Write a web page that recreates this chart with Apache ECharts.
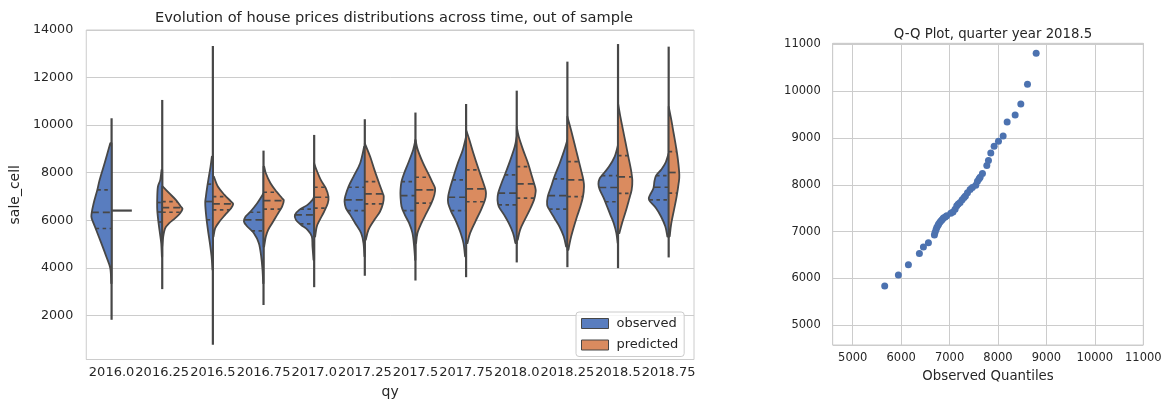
<!DOCTYPE html>
<html>
<head>
<meta charset="utf-8">
<script src="https://cdn.jsdelivr.net/npm/echarts@6/dist/echarts.min.js"></script>
<style>
html,body{margin:0;padding:0;background:#fff;}
#chart{width:1167px;height:405px;}
</style>
</head>
<body>
<div id="chart"></div>
<script>
// ---------- data ----------
const categories = ['2016.0','2016.25','2016.5','2016.75','2017.0','2017.25','2017.5','2017.75','2018.0','2018.25','2018.5','2018.75'];

// density profiles per violin half: [sale_cell value, half width as fraction of the category band]
const obsProfiles = [
  [[9240,0.026],[8400,0.138],[7700,0.236],[7280,0.282],[6720,0.354],[6300,0.393],[6090,0.393],[5656,0.315],[5040,0.203],[4480,0.105],[3990,0.026],[3360,0.007]],
  [[8120,0.013],[7700,0.039],[7420,0.085],[7000,0.098],[6440,0.098],[5880,0.072],[5460,0.046],[5040,0.020],[4480,0.007]],
  [[8680,0.020],[8260,0.046],[7840,0.079],[7420,0.111],[7000,0.138],[6720,0.151],[6160,0.131],[5600,0.098],[5040,0.059],[4480,0.026],[3920,0.007]],
  [[7140,0],[7000,0.039],[6720,0.125],[6370,0.256],[6160,0.354],[5950,0.387],[5740,0.321],[5460,0.190],[5040,0.092],[4480,0.046],[3920,0.020],[3360,0.007]],
  [[7000,0],[6860,0.033],[6650,0.131],[6440,0.295],[6230,0.380],[6020,0.360],[5810,0.262],[5600,0.131],[5320,0.046],[4900,0.033],[4340,0.013]],
  [[9100,0.013],[8400,0.092],[7840,0.223],[7420,0.321],[7000,0.387],[6790,0.400],[6510,0.374],[6230,0.288],[5880,0.190],[5460,0.072],[5040,0.026],[4480,0.007]],
  [[9380,0],[8960,0.046],[8400,0.144],[7980,0.223],[7630,0.275],[7280,0.295],[7000,0.295],[6580,0.275],[6230,0.210],[5880,0.125],[5460,0.059],[4900,0.026],[4340,0.007]],
  [[9520,0],[8960,0.066],[8400,0.164],[7840,0.249],[7420,0.308],[7000,0.354],[6720,0.354],[6370,0.295],[5950,0.197],[5530,0.118],[5040,0.052],[4480,0.020]],
  [[9520,0],[9100,0.039],[8540,0.125],[7980,0.223],[7560,0.301],[7140,0.367],[6860,0.380],[6580,0.354],[6230,0.249],[5880,0.157],[5460,0.072],[5040,0.026]],
  [[9380,0],[8960,0.059],[8400,0.151],[7840,0.256],[7420,0.321],[7000,0.387],[6650,0.400],[6440,0.354],[6090,0.256],[5740,0.157],[5320,0.072],[4900,0.026]],
  [[9170,0],[8680,0.066],[8260,0.177],[7980,0.282],[7770,0.360],[7530,0.387],[7280,0.360],[6930,0.282],[6580,0.216],[6230,0.151],[5880,0.085],[5460,0.033],[5040,0.007]],
  [[8820,0],[8400,0.066],[8120,0.151],[7880,0.249],[7630,0.282],[7350,0.301],[7070,0.367],[6930,0.393],[6790,0.367],[6510,0.249],[6160,0.151],[5740,0.066],[5320,0.026]]
];
const predProfiles = [
  [[6410,0.40]],
  [[7420,0.013],[7140,0.138],[6860,0.269],[6580,0.367],[6480,0.400],[6300,0.354],[6090,0.256],[5880,0.138],[5670,0.059],[5320,0.020],[4900,0]],
  [[7840,0.020],[7420,0.098],[7070,0.229],[6790,0.360],[6690,0.400],[6510,0.360],[6230,0.242],[5950,0.131],[5670,0.046],[5320,0.013]],
  [[8260,0.013],[7980,0.046],[7560,0.138],[7210,0.256],[6930,0.367],[6830,0.400],[6580,0.367],[6230,0.269],[5880,0.170],[5600,0.092],[5320,0.046],[4900,0.013]],
  [[8400,0],[8120,0.046],[7700,0.131],[7350,0.229],[7000,0.282],[6720,0.269],[6370,0.197],[6020,0.111],[5740,0.052],[5320,0.020]],
  [[9240,0],[8680,0.105],[8120,0.190],[7560,0.282],[7140,0.354],[7000,0.374],[6720,0.360],[6370,0.301],[6020,0.190],[5600,0.072],[5180,0.020]],
  [[9380,0],[8960,0.046],[8400,0.151],[7980,0.249],[7630,0.328],[7350,0.387],[7070,0.374],[6720,0.315],[6300,0.216],[5880,0.118],[5460,0.039],[5040,0.013]],
  [[9800,0],[9380,0.066],[8820,0.144],[8260,0.229],[7770,0.308],[7350,0.374],[7140,0.393],[6860,0.374],[6440,0.295],[5950,0.183],[5460,0.079],[5040,0.026]],
  [[9940,0],[9520,0.039],[8960,0.125],[8400,0.223],[7840,0.301],[7420,0.360],[7210,0.374],[6860,0.341],[6440,0.256],[6020,0.157],[5600,0.066],[5180,0.020]],
  [[10360,0],[9800,0.072],[9240,0.138],[8680,0.203],[8120,0.269],[7700,0.315],[7420,0.328],[7000,0.308],[6580,0.256],[6160,0.190],[5600,0.111],[5180,0.059],[4760,0.020]],
  [[10920,0],[10360,0.046],[9800,0.098],[9240,0.151],[8680,0.203],[8120,0.256],[7670,0.282],[7280,0.269],[6860,0.216],[6370,0.151],[5880,0.079],[5460,0.026]],
  [[10780,0],[10220,0.052],[9660,0.098],[9100,0.144],[8540,0.183],[7910,0.210],[7560,0.197],[7000,0.157],[6440,0.105],[5880,0.052],[5320,0.020]]
];
// quartiles [Q3, median, Q1]
const obsQuartiles = [[7280,6330,5656],[6750,6350,5930],[7520,6790,6020],[6340,6020,5560],[6470,6230,5850],[7390,6860,6410],[7630,7040,6410],[7700,6970,6410],[7910,7140,6650],[7740,7040,6470],[7880,7380,6780],[7880,7390,6860]];
const predQuartiles = [null,[6790,6530,6340],[7000,6690,6440],[7180,6830,6470],[7390,6970,6510],[7630,7110,6690],[7810,7280,6720],[8120,7320,6780],[8260,7530,6930],[8470,7700,7000],[8720,7830,7130],[8890,8010,7140]];
// extent of the thin tails
const tipTop    = [10290,11060,13330,8930,9590,10250,10530,10890,11450,12670,13410,13300];
const tipBottom = [1820,3108,770,2440,3190,3670,3470,3610,4230,4030,3990,4440];

// Q-Q plot, quarter year 2018.5
const qqObserved  = [5661,5943,6150,6377,6460,6563,6687,6700,6720,6736,6760,6775,6800,6825,6850,6873,6910,6942,7025,7070,7114,7149,7180,7218,7260,7300,7328,7370,7424,7470,7541,7576,7610,7631,7679,7769,7803,7851,7920,8010,8106,8189,8354,8471,8609,8788];
const qqPredicted = [5838,6075,6290,6534,6670,6763,6930,6980,7040,7090,7130,7160,7200,7230,7260,7290,7310,7340,7390,7420,7480,7550,7590,7624,7680,7730,7760,7830,7900,7940,7990,8078,8130,8163,8241,8411,8518,8681,8823,8929,9043,9340,9489,9723,10149,10809];

const yTicksLeft = [2000,4000,6000,8000,10000,12000,14000];

// ---------- styling ----------
const BLUE = '#597dbf', ORANGE = '#da8b5f', LINE = '#474747', FRAME = '#cccccc', TXT = '#262626';
const FONT = 'DejaVu Sans';

function widthAt(prof, v) {
  for (let k = 0; k < prof.length - 1; k++) {
    const a = prof[k], b = prof[k + 1];
    if (v <= a[0] && v >= b[0]) {
      const t = (a[0] - v) / (a[0] - b[0]);
      return a[1] + t * (b[1] - a[1]);
    }
  }
  return 0;
}

function makeRenderer(profiles, quartiles, side, fill) {
  return function (params, api) {
    const i = api.value(0);
    const prof = profiles[i];
    const band = api.size([1, 0])[0];
    const cx = api.coord([i, 0])[0];
    const toY = v => api.coord([i, v])[1];
    const children = [];
    if (side < 0) {
      children.push({type: 'line', shape: {x1: cx, y1: toY(tipTop[i]), x2: cx, y2: toY(tipBottom[i])},
        style: {stroke: LINE, lineWidth: 2.2}});
    }
    if (prof.length === 1) {
      const y = toY(prof[0][0]);
      children.push({type: 'line', shape: {x1: cx, y1: y, x2: cx + side * prof[0][1] * band, y2: y},
        style: {stroke: LINE, lineWidth: 2.2}});
      return {type: 'group', children};
    }
    const pts = prof.map(p => [cx + side * p[1] * band, toY(p[0])]);
    let d = 'M' + cx + ',' + pts[0][1] + ' L' + pts[0][0] + ',' + pts[0][1];
    for (let k = 0; k < pts.length - 1; k++) {
      const p0 = pts[Math.max(k - 1, 0)], p1 = pts[k], p2 = pts[k + 1], p3 = pts[Math.min(k + 2, pts.length - 1)];
      const c1x = p1[0] + (p2[0] - p0[0]) / 6, c1y = p1[1] + (p2[1] - p0[1]) / 6;
      const c2x = p2[0] - (p3[0] - p1[0]) / 6, c2y = p2[1] - (p3[1] - p1[1]) / 6;
      d += ' C' + c1x + ',' + c1y + ' ' + c2x + ',' + c2y + ' ' + p2[0] + ',' + p2[1];
    }
    d += ' L' + cx + ',' + pts[pts.length - 1][1] + ' Z';
    children.push({type: 'path', shape: {pathData: d}, style: {fill: fill, stroke: LINE, lineWidth: 1.8, lineJoin: 'round'}});
    const qs = quartiles[i];
    if (qs) {
      qs.forEach((q, qi) => {
        const w = widthAt(prof, q);
        const y = toY(q);
        const xe = cx + side * w * band;
        const shape = side < 0 ? {x1: xe, y1: y, x2: cx, y2: y} : {x1: cx, y1: y, x2: xe, y2: y};
        children.push({type: 'line', shape: shape,
          style: {stroke: LINE, lineWidth: 1.7, lineDash: qi === 1 ? [7, 4] : [3.5, 3.5]}});
      });
    }
    return {type: 'group', children};
  };
}

const chart = echarts.init(document.getElementById('chart'), null, {renderer: 'canvas'});
const catData = categories.map((c, i) => [i, tipTop[i]]);

const option = {
  backgroundColor: '#ffffff',
  animation: false,
  textStyle: {fontFamily: FONT, color: TXT},
  title: [
    {text: 'Evolution of house prices distributions across time, out of sample', left: 389, top: 6, textAlign: 'center',
      textStyle: {fontFamily: FONT, fontSize: 14.6, fontWeight: 'normal', color: '#262626'}},
    {text: 'Q-Q Plot, quarter year 2018.5', left: 988, top: 23, textAlign: 'center',
      textStyle: {fontFamily: FONT, fontSize: 13.3, fontWeight: 'normal', color: '#262626'}}
  ],
  legend: {
    data: ['observed', 'predicted'], orient: 'vertical', left: 576, top: 312,
    itemWidth: 27, itemHeight: 10, itemGap: 8.5, icon: 'rect',
    padding: [5, 6, 5, 5],
    backgroundColor: 'rgba(255,255,255,0.8)', borderColor: FRAME, borderWidth: 1, borderRadius: 3,
    itemStyle: {borderColor: LINE, borderWidth: 1},
    textStyle: {fontFamily: FONT, fontSize: 13, color: '#262626', padding: [0, 0, 0, 3]}
  },
  grid: [
    {left: 84, top: 30, width: 610, height: 329.5, show: true, borderColor: FRAME, borderWidth: 1, backgroundColor: 'transparent'},
    {left: 832.7, top: 43.3, width: 310.6, height: 301.7, show: true, borderColor: FRAME, borderWidth: 1, backgroundColor: 'transparent'}
  ],
  xAxis: [
    {type: 'category', gridIndex: 0, data: categories, boundaryGap: true,
      name: 'qy', nameLocation: 'middle', nameGap: 26, nameTextStyle: {fontFamily: FONT, fontSize: 14, color: '#262626'},
      axisLine: {show: false}, axisTick: {show: false}, splitLine: {show: false},
      axisLabel: {interval: 0, margin: 7, fontFamily: FONT, fontSize: 13, color: TXT}},
    {type: 'value', gridIndex: 1, min: 4587, max: 11000, minInterval: 1000, maxInterval: 1000,
      name: 'Observed Quantiles', nameLocation: 'middle', nameGap: 25, nameTextStyle: {fontFamily: FONT, fontSize: 13.3, color: '#262626'},
      axisLine: {show: false}, axisTick: {show: false},
      splitLine: {show: true, lineStyle: {color: FRAME, width: 1}},
      axisLabel: {margin: 7, showMinLabel: false, fontFamily: FONT, fontSize: 11.5, color: TXT,
        formatter: v => (v % 1000 === 0 ? String(v) : '')}}
  ],
  yAxis: [
    {type: 'value', gridIndex: 0, min: 150, max: 14000, minInterval: 2000, maxInterval: 2000,
      name: 'sale_cell', nameLocation: 'middle', nameGap: 58, nameTextStyle: {fontFamily: FONT, fontSize: 14, color: '#262626'},
      axisLine: {show: false}, axisTick: {show: false},
      splitLine: {show: true, lineStyle: {color: FRAME, width: 1}},
      axisLabel: {margin: 13, showMinLabel: false, fontFamily: FONT, fontSize: 12.7, color: TXT,
        formatter: v => (yTicksLeft.indexOf(v) >= 0 ? String(v) : '')}},
    {type: 'value', gridIndex: 1, min: 4579, max: 11021, minInterval: 1000, maxInterval: 1000,
      axisLine: {show: false}, axisTick: {show: false},
      splitLine: {show: true, lineStyle: {color: FRAME, width: 1}},
      axisLabel: {margin: 12, showMinLabel: false, showMaxLabel: false, fontFamily: FONT, fontSize: 11.5, color: TXT,
        formatter: v => (v % 1000 === 0 ? String(v) : '')}}
  ],
  series: [
    {name: 'observed', type: 'custom', xAxisIndex: 0, yAxisIndex: 0, data: catData,
      itemStyle: {color: BLUE, borderColor: LINE, borderWidth: 1},
      renderItem: makeRenderer(obsProfiles, obsQuartiles, -1, BLUE)},
    {name: 'predicted', type: 'custom', xAxisIndex: 0, yAxisIndex: 0, data: catData,
      itemStyle: {color: ORANGE, borderColor: LINE, borderWidth: 1},
      renderItem: makeRenderer(predProfiles, predQuartiles, 1, ORANGE)},
    {name: 'qq', type: 'scatter', xAxisIndex: 1, yAxisIndex: 1,
      data: qqObserved.map((x, i) => [x, qqPredicted[i]]),
      symbolSize: 7, itemStyle: {color: '#4c72b0', opacity: 1}}
  ]
};
chart.setOption(option);
</script>
</body>
</html>
